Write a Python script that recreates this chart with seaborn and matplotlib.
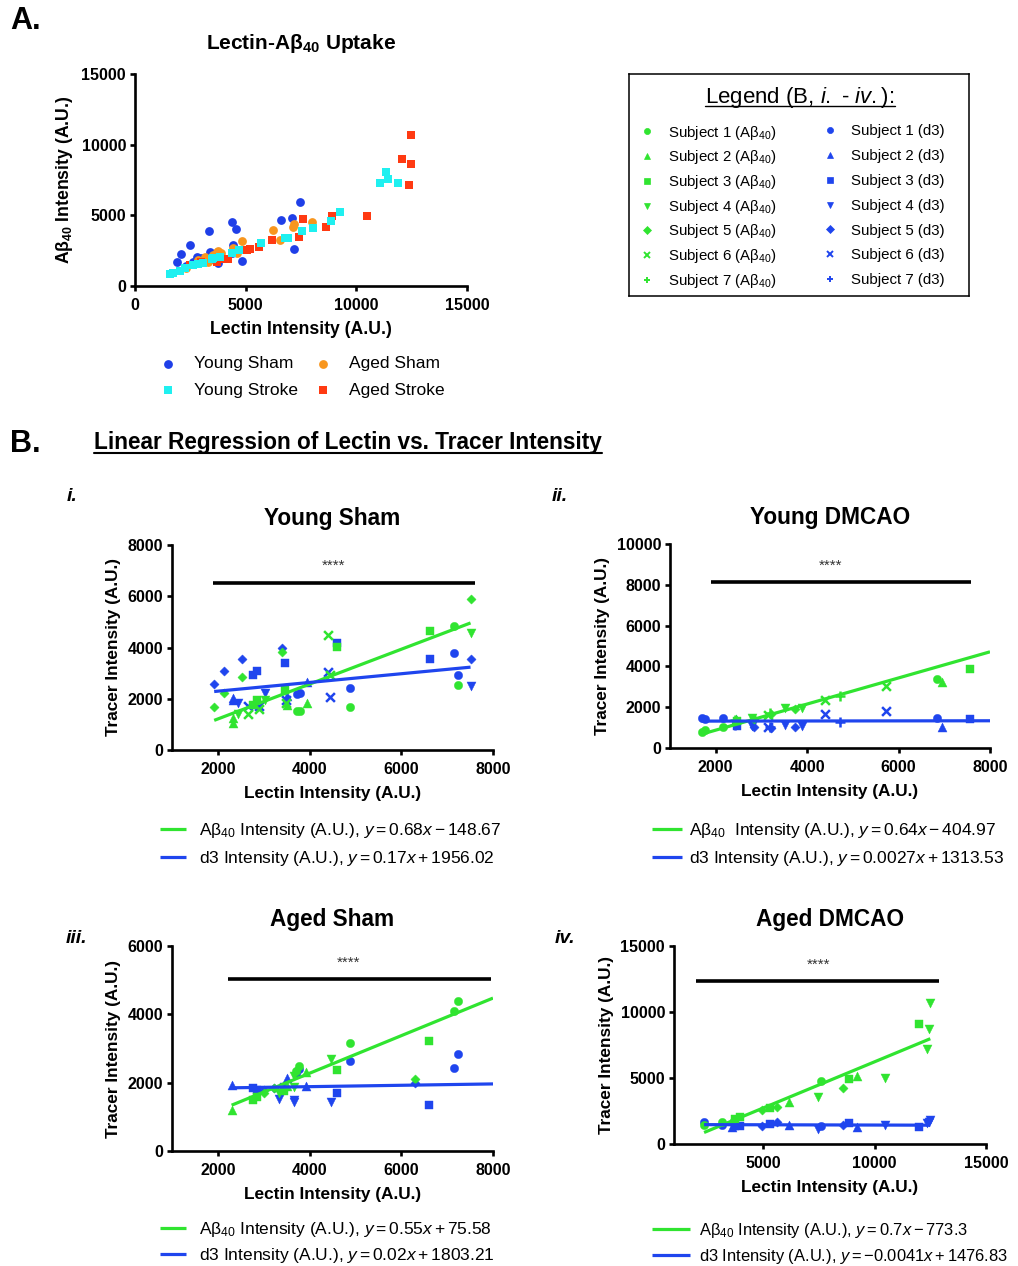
import matplotlib
matplotlib.use("Agg")
import matplotlib.pyplot as plt
from matplotlib.lines import Line2D
import seaborn as sns
import numpy as np
import pandas as pd

# ---------------- Panel A: Lectin vs A-beta40 per group ----------------
ysham_lectin = [7455, 6582, 7109, 4368, 4564, 3344, 2485, 2094, 1883, 7184, 4850, 3389,
                2787, 4413, 3765, 3000, 2600, 3500, 2300, 3700, 2900, 4400]
ysham_ab40 = [5921, 4695, 4836, 4506, 4058, 3893, 2902, 2241, 1722, 2595, 1770, 2430,
              2076, 2878, 1604, 2000, 1700, 1900, 1400, 2200, 1600, 2300]
asham_lectin = [7982, 7124, 7184, 6250, 6551, 4850, 4413, 3765, 3886, 3163, 2862, 3540,
                2300, 3300, 3700, 4600]
asham_ab40 = [4553, 4199, 4388, 3964, 3256, 3185, 2666, 2501, 2312, 2076, 1840, 2194,
              1300, 1700, 2400, 2300]
ystroke_lectin = [11341, 11446, 11070, 11868, 9277, 8841, 8058, 7546, 6898, 6778, 5693, 4699,
                  4368, 3841, 3464, 3088, 2636, 2260, 1732, 1582, 2034, 2862, 3540]
ystroke_ab40 = [8092, 7549, 7266, 7266, 5214, 4624, 4081, 3869, 3397, 3397, 3067, 2548,
                2359, 2029, 1887, 1652, 1487, 1250, 897, 850, 1085, 1558, 1958]
astroke_lectin = [12485, 12048, 12485, 12395, 10497, 7606, 7425, 8615, 8886, 6175, 5618, 5196,
                  5046, 3991, 2500, 3000, 3700, 4200]
astroke_ab40 = [10687, 9012, 8610, 7124, 4930, 4718, 3444, 4176, 4978, 3279, 2737, 2595,
                2548, 1887, 1500, 1700, 1700, 1900]

# ---------------- Panel B: per-subject lectin / tracer intensities ----------------
# i. Young Sham
i_subject = [5, 5, 5, 5, 5, 3, 3, 3, 3, 3, 1, 1, 1, 1, 1, 4, 4, 4, 2, 2, 2, 2, 6, 6, 6, 6, 6]
i_lectin = [7510, 1920, 2140, 2520, 3390, 2770, 2860, 3470, 4600, 6620, 7140, 7230, 4890, 3730,
            3800, 7510, 3020, 2430, 2320, 2340, 3500, 3950, 2660, 2900, 3490, 4410, 4440]
i_ab40 = [5890, 1660, 2210, 2860, 3840, 1760, 1950, 2330, 4030, 4660, 4850, 2520, 1690, 1510,
          1530, 4550, 1950, 1400, 1040, 1240, 1760, 1850, 1400, 1590, 1850, 4490, 2930]
i_d3 = [3540, 2580, 3100, 3550, 3970, 2930, 3080, 3410, 4160, 3560, 3800, 2910, 2410, 2170,
        2230, 2500, 2230, 1850, 2030, 1950, 2100, 2650, 1720, 1720, 1960, 3060, 2080]
i_fit_ab40 = (0.68, -148.67)
i_fit_d3 = (0.17, 1956.02)

# ii. Young DMCAO
ii_subject = [1, 1, 1, 1, 2, 2, 3, 3, 4, 4, 4, 5, 5, 5, 6, 6, 6, 7, 7, 7]
ii_lectin = [1690, 1760, 2160, 6830, 2450, 6940, 2470, 7560, 3510, 3880, 2800, 2830, 3730, 3200,
             3140, 4390, 5720, 4720, 3180, 2420]
ii_ab40 = [800, 900, 1030, 3370, 1420, 3250, 1300, 3860, 1980, 1950, 1450, 1430, 1900, 1650,
           1620, 2350, 3040, 2550, 1700, 1350]
ii_d3 = [1450, 1400, 1450, 1450, 1400, 1010, 1080, 1420, 1130, 1080, 1080, 1050, 1010, 1000,
         1010, 1670, 1830, 1290, 1050, 1150]
ii_fit_ab40 = (0.64, -404.97)
ii_fit_d3 = (0.0027, 1313.53)

# iii. Aged Sham
iii_subject = [1, 1, 1, 1, 1, 3, 3, 3, 3, 3, 2, 2, 2, 4, 4, 4, 4, 5, 5, 5]
iii_lectin = [3760, 3700, 4890, 7140, 7230, 2760, 2860, 3450, 4600, 6610, 2300, 3500, 3930,
              3330, 3650, 3670, 4460, 3010, 3220, 6300]
iii_ab40 = [2480, 2330, 3170, 4110, 4400, 1490, 1570, 1760, 2370, 3220, 1200, 1900, 2310,
            1700, 1880, 2200, 2680, 1690, 1830, 2100]
iii_d3 = [2400, 2250, 2620, 2430, 2830, 1830, 1800, 1870, 1710, 1350, 1930, 2150, 1910,
          1520, 1500, 1420, 1420, 1800, 1840, 2000]
iii_fit_ab40 = (0.55, 75.58)
iii_fit_d3 = (0.02, 1803.21)

# iv. Aged DMCAO
iv_subject = [1, 1, 1, 2, 2, 2, 3, 3, 3, 3, 3, 4, 4, 4, 4, 4, 5, 5, 5]
iv_lectin = [2350, 3150, 7600, 3600, 6170, 9230, 3740, 3970, 5310, 8870, 12010, 7440, 10470,
             12370, 12460, 12500, 4940, 5610, 8600]
iv_ab40 = [1440, 1690, 4770, 1820, 3210, 5150, 1870, 2020, 2700, 4930, 9070, 3540, 5030,
           7170, 8690, 10710, 2580, 2830, 4220]
iv_d3 = [1690, 1440, 1360, 1310, 1440, 1310, 1360, 1360, 1520, 1570, 1310, 1110, 1440,
         1570, 1690, 1820, 1360, 1690, 1440]
iv_fit_ab40 = (0.7, -773.3)
iv_fit_d3 = (-0.0041, 1476.83)

subject_labels = [f"Subject {k}" for k in range(1, 8)]
subject_markers = ["o", "^", "s", "v", "D", "x", "+"]
marker_sizes = {"o": 36, "^": 42, "s": 34, "v": 42, "D": 22, "x": 40, "+": 50}

GREEN = "#30e430"
BLUE = "#1f45ee"
C_YSHAM = "#1f3fe8"
C_ASHAM = "#f8961e"
C_YSTROKE = "#1ff0f0"
C_ASTROKE = "#ff3a12"

sns.set_style("ticks")
plt.rcParams["font.family"] = ["Liberation Sans", "DejaVu Sans"]
plt.rcParams["mathtext.fontset"] = "custom"
plt.rcParams["mathtext.rm"] = "Liberation Sans"
plt.rcParams["mathtext.it"] = "Liberation Sans:italic"
plt.rcParams["mathtext.bf"] = "Liberation Sans:bold"
for key in ["text.color", "axes.labelcolor", "xtick.color", "ytick.color", "axes.edgecolor"]:
    plt.rcParams[key] = "black"

W, H = 1018, 1266


def rect(l, t, r, b):
    return [l / W, 1 - b / H, (r - l) / W, (b - t) / H]


def fx(px):
    return px / W


def fy(py):
    return 1 - py / H


def style_axis(ax, labelsize=11.5):
    sns.despine(ax=ax)
    for s in ("left", "bottom"):
        ax.spines[s].set_linewidth(1.9)
    ax.tick_params(width=1.9, length=3.6, labelsize=labelsize)
    ax.tick_params(axis="x", pad=5)
    ax.tick_params(axis="y", pad=2.8)
    for lab in ax.get_xticklabels() + ax.get_yticklabels():
        lab.set_fontweight("bold")


def fit_label(m, b):
    sign = "+" if b >= 0 else "-"
    return r"$\mathit{y = " + f"{m}x {sign} {abs(b)}" + r"}$"


fig = plt.figure(figsize=(W / 100, H / 100), dpi=100)

# ---------------- Panel A ----------------
ax_a = fig.add_axes(rect(135, 74, 467, 286))
groups_a = [
    ("Young Sham", ysham_lectin, ysham_ab40, C_YSHAM, "o", 40),
    ("Aged Sham", asham_lectin, asham_ab40, C_ASHAM, "o", 40),
    ("Aged Stroke", astroke_lectin, astroke_ab40, C_ASTROKE, "s", 36),
    ("Young Stroke", ystroke_lectin, ystroke_ab40, C_YSTROKE, "s", 36),
]
for name, xs, ys, col, mk, sz in groups_a:
    sns.scatterplot(x=xs, y=ys, ax=ax_a, color=col, marker=mk, s=sz, linewidth=0,
                    label=name, legend=False, zorder=2)
ax_a.set_xlim(0, 15000)
ax_a.set_ylim(0, 15000)
ax_a.set_xticks([0, 5000, 10000, 15000])
ax_a.set_yticks([0, 5000, 10000, 15000])
style_axis(ax_a)
ax_a.set_xlabel("Lectin Intensity (A.U.)", fontsize=12.7, fontweight="bold", labelpad=6)
ax_a.set_ylabel(r"Aβ$_\mathbf{40}$ Intensity (A.U.)", fontsize=12.7, fontweight="bold", labelpad=5)
ax_a.set_title(r"Lectin-Aβ$_\mathbf{40}$ Uptake", fontsize=15, fontweight="bold", pad=18)
if ax_a.get_legend() is not None:
    ax_a.get_legend().remove()
h, l = ax_a.get_legend_handles_labels()
hmap = dict(zip(l, h))
order = ["Young Sham", "Young Stroke", "Aged Sham", "Aged Stroke"]
fig.legend([hmap[k] for k in order], order, loc="upper left", ncol=2,
           bbox_to_anchor=(fx(159), fy(356)), frameon=False, borderpad=0, borderaxespad=0,
           handlelength=1.0, handletextpad=1.0, columnspacing=0.95, labelspacing=0.65,
           prop={"size": 12.5})

# ---------------- Legend box for panel B ----------------
ax_box = fig.add_axes(rect(629, 74, 969, 296))
ax_box.set_xticks([])
ax_box.set_yticks([])
for s in ax_box.spines.values():
    s.set_visible(True)
    s.set_linewidth(1.1)
    s.set_color("black")


def subject_handle(mk, col):
    filled = mk not in ("x", "+")
    return Line2D([], [], linestyle="None", marker=mk, color=col,
                  markersize=4.4 if mk != "D" else 3.6, markeredgewidth=1.4 if not filled else 0.5)


box_cols = [(GREEN, r" (Aβ$_{40}$)", 639, 123.5, 0.45), (BLUE, " (d3)", 822.5, 124.5, 0.72)]
for n, (col, suffix, x0, y0, spacing) in enumerate(box_cols):
    handles = [subject_handle(mk, col) for mk in subject_markers]
    labels = [lab + suffix for lab in subject_labels]
    lg = ax_box.legend(handles, labels, loc="upper left", bbox_to_anchor=(fx(x0), fy(y0)),
                       bbox_transform=fig.transFigure, frameon=False, borderpad=0,
                       borderaxespad=0, handlelength=1.0, handletextpad=0.9,
                       labelspacing=spacing, prop={"size": 10.8})
    if n < len(box_cols) - 1:
        ax_box.add_artist(lg)

box_title = fig.text(fx(800), fy(103.5), r"Legend (B, $\mathit{i.}$ - $\mathit{iv.}$):",
                     ha="center", va="baseline", fontsize=16)

# ---------------- Headings ----------------
fig.text(fx(10), fy(29), "A.", fontsize=22, fontweight="bold", va="baseline")
fig.text(fx(10), fy(452), "B.", fontsize=22, fontweight="bold", va="baseline")
b_head = fig.text(fx(94), fy(449), "Linear Regression of Lectin vs. Tracer Intensity",
                  fontsize=16.3, fontweight="bold", va="baseline")

# ---------------- Panel B subplots ----------------
panels = [
    dict(title="Young Sham", tag="i.", tag_xy=(67, 501), box=(172, 545, 493, 750),
         subject=i_subject, lectin=i_lectin, ab40=i_ab40, d3=i_d3,
         fit_ab40=i_fit_ab40, fit_d3=i_fit_d3, extend=False,
         xlim=(1000, 8000), xticks=[2000, 4000, 6000, 8000], ylim=(0, 8000),
         yticks=[0, 2000, 4000, 6000, 8000], sig=(1900, 7610, 6530, 4520),
         leg_xy=(160, 821), leg_hl=1.5, leg_pad=0.75, leg_sp=0.5, leg_fs=12.5, ab_gap=" "),
    dict(title="Young DMCAO", tag="ii.", tag_xy=(552, 501), box=(670, 544, 990, 748),
         subject=ii_subject, lectin=ii_lectin, ab40=ii_ab40, d3=ii_d3,
         fit_ab40=ii_fit_ab40, fit_d3=ii_fit_d3, extend=True,
         xlim=(1000, 8000), xticks=[2000, 4000, 6000, 8000], ylim=(0, 10000),
         yticks=[0, 2000, 4000, 6000, 8000, 10000], sig=(1890, 7585, 8120, 4510),
         leg_xy=(652, 821), leg_hl=1.75, leg_pad=0.4, leg_sp=0.5, leg_fs=12.5, ab_gap="  "),
    dict(title="Aged Sham", tag="iii.", tag_xy=(66, 943), box=(172, 946, 493, 1151),
         subject=iii_subject, lectin=iii_lectin, ab40=iii_ab40, d3=iii_d3,
         fit_ab40=iii_fit_ab40, fit_d3=iii_fit_d3, extend=True,
         xlim=(1000, 8000), xticks=[2000, 4000, 6000, 8000], ylim=(0, 6000),
         yticks=[0, 2000, 4000, 6000], sig=(2230, 7960, 5030, 4860),
         leg_xy=(160, 1220), leg_hl=1.5, leg_pad=0.75, leg_sp=0.38, leg_fs=12.5, ab_gap=" "),
    dict(title="Aged DMCAO", tag="iv.", tag_xy=(555, 943), box=(674, 946, 986, 1144),
         subject=iv_subject, lectin=iv_lectin, ab40=iv_ab40, d3=iv_d3,
         fit_ab40=iv_fit_ab40, fit_d3=iv_fit_d3, extend=False,
         xlim=(1000, 15000), xticks=[5000, 10000, 15000], ylim=(0, 15000),
         yticks=[0, 5000, 10000, 15000], sig=(2000, 12900, 12350, 7470),
         leg_xy=(652, 1221), leg_hl=2.3, leg_pad=0.55, leg_sp=0.4, leg_fs=11.9, ab_gap=" "),
]

for p in panels:
    ax = fig.add_axes(rect(*p["box"]))
    df = pd.DataFrame({"subject": p["subject"], "lectin": p["lectin"],
                       "ab40": p["ab40"], "d3": p["d3"]})
    for tracer, col in (("d3", BLUE), ("ab40", GREEN)):
        for k, mk in enumerate(subject_markers, start=1):
            sub = df[df["subject"] == k]
            if sub.empty:
                continue
            kw = dict(marker=mk, s=marker_sizes[mk], color=col, ax=ax, legend=False, zorder=2)
            if mk in ("x", "+"):
                kw["linewidth"] = 1.8
            else:
                kw["linewidth"] = 0.3
                kw["edgecolor"] = col
            sns.scatterplot(data=sub, x="lectin", y=tracer, **kw)

    ax.set_xlim(*p["xlim"])
    ax.set_ylim(*p["ylim"])
    x_lo = df["lectin"].min()
    x_hi = p["xlim"][1] if p["extend"] else df["lectin"].max()
    xs = np.array([x_lo, x_hi])
    lines = []
    for (m, b), col in ((p["fit_ab40"], GREEN), (p["fit_d3"], BLUE)):
        ln, = ax.plot(xs, m * xs + b, color=col, lw=2.3, zorder=3, solid_capstyle="butt")
        lines.append(ln)

    sx0, sx1, sy, stx = p["sig"]
    ax.plot([sx0, sx1], [sy, sy], color="black", lw=2.6, solid_capstyle="butt", clip_on=False)
    ax.annotate("****", xy=(stx, sy), xytext=(0, 9), textcoords="offset points",
                ha="center", va="baseline", fontsize=11, color="#333333")

    ax.set_xticks(p["xticks"])
    ax.set_yticks(p["yticks"])
    style_axis(ax)
    ax.set_xlabel("Lectin Intensity (A.U.)", fontsize=12.4, fontweight="bold", labelpad=6.5)
    ax.set_ylabel("Tracer Intensity (A.U.)", fontsize=12.4, fontweight="bold", labelpad=5)
    ax.set_title(p["title"], fontsize=16.3, fontweight="bold", pad=14.5)
    fig.text(fx(p["tag_xy"][0]), fy(p["tag_xy"][1]), p["tag"], fontsize=14,
             fontweight="bold", style="italic", va="baseline")

    labels = [r"Aβ$_{40}$" + p["ab_gap"] + "Intensity (A.U.), " + fit_label(*p["fit_ab40"]),
              "d3 Intensity (A.U.), " + fit_label(*p["fit_d3"])]
    ax.legend(lines, labels, loc="upper left", bbox_to_anchor=(fx(p["leg_xy"][0]), fy(p["leg_xy"][1])),
              bbox_transform=fig.transFigure, frameon=False, borderpad=0, borderaxespad=0,
              handlelength=p["leg_hl"], handletextpad=p["leg_pad"], labelspacing=p["leg_sp"],
              prop={"size": p["leg_fs"]})

# ---------------- Underlines ----------------
fig.canvas.draw()
renderer = fig.canvas.get_renderer()


def underline(txt, drop_px, lw):
    bb = txt.get_window_extent(renderer)
    base = txt.get_transform().transform(txt.get_position())[1]
    y = base - drop_px
    inv = fig.transFigure.inverted()
    (x0, y0), (x1, _) = inv.transform([(bb.x0, y), (bb.x1, y)])
    fig.add_artist(Line2D([x0, x1], [y0, y0], transform=fig.transFigure, color="black", lw=lw))


underline(b_head, 3.5, 1.5)
underline(box_title, 2.5, 1.0)

fig.savefig("out.png", dpi=100)
